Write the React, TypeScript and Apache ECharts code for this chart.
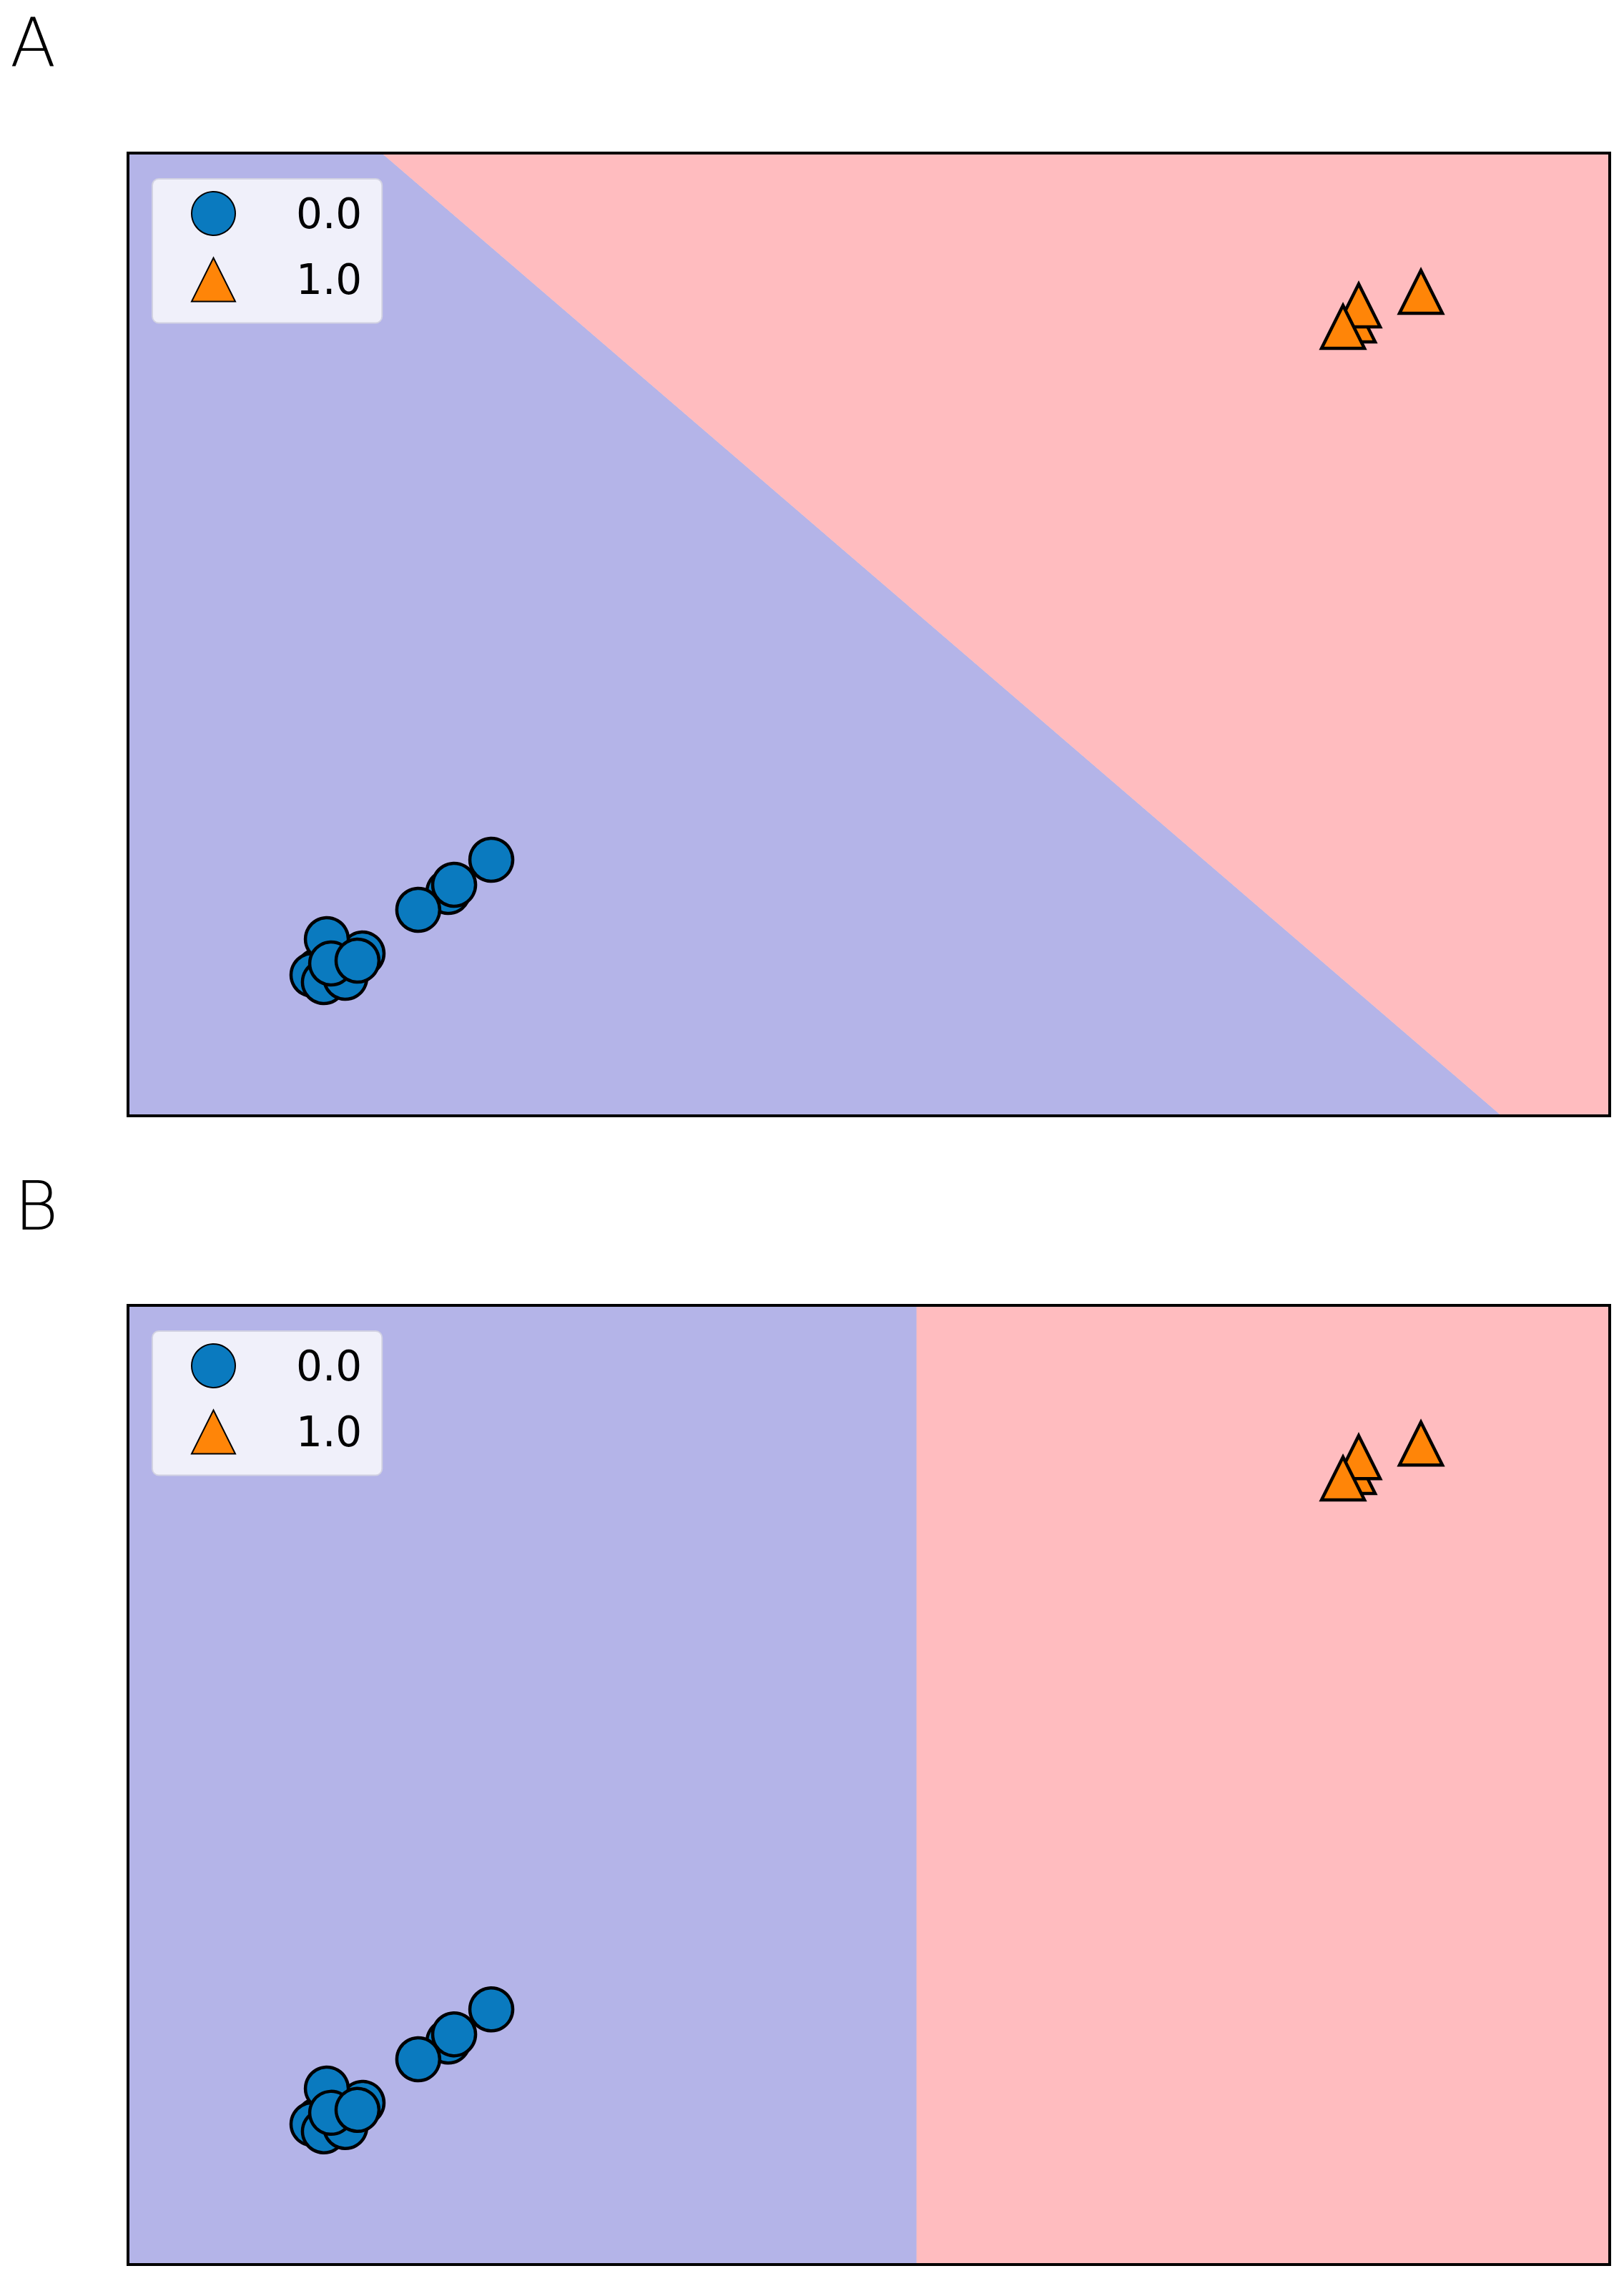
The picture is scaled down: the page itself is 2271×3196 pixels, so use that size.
import React, { useEffect, useRef } from "react";
import * as echarts from "echarts";

// ---- data (arbitrary feature units, axes span 0..100) ----
const classNames = ["0.0", "1.0"];
const class0X = [24.52, 21.62, 22.01, 19.59, 12.84, 12.45, 13.22, 14.67, 15.83, 13.42, 13.71, 15.49];
const class0Y = [26.6, 23.25, 24.0, 21.4, 15.08, 14.64, 13.89, 14.34, 16.86, 18.35, 15.82, 16.12];
const class1X = [82.72, 83.06, 82.0, 87.26];
const class1Y = [82.62, 84.18, 81.95, 85.59];
// decision boundary of panel A: line through (x at top, x at bottom)
const boundaryA = [
  [17.13, 100],
  [92.71, 0],
];
// decision boundary of panel B: vertical line at x
const boundaryB = [53.23];
const axisMin = 0;
const axisMax = 100;
const panelLabels = ["A", "B"];

const BLUE_REGION = "#b4b4e8";
const RED_REGION = "#ffbcbf";
const BLUE = "#0a7abf";
const ORANGE = "#ff8508";

export default function App() {
  const ref = useRef<HTMLDivElement>(null);
  useEffect(() => {
    document.body.style.margin = "0";
    if (!ref.current) return;
    const chart = echarts.init(ref.current, null, { renderer: "svg" });

    const pts0 = class0X.map((x, i) => [x, class0Y[i]]);
    const pts1 = class1X.map((x, i) => [x, class1Y[i]]);

    const polysA = {
      blue: [[axisMin, axisMin], [axisMin, axisMax], boundaryA[0], boundaryA[1]],
      red: [boundaryA[0], [axisMax, axisMax], [axisMax, axisMin], boundaryA[1]],
    };
    const polysB = {
      blue: [[axisMin, axisMin], [axisMin, axisMax], [boundaryB[0], axisMax], [boundaryB[0], axisMin]],
      red: [[boundaryB[0], axisMin], [boundaryB[0], axisMax], [axisMax, axisMax], [axisMax, axisMin]],
    };
    const frame = [
      [axisMin, axisMin],
      [axisMin, axisMax],
      [axisMax, axisMax],
      [axisMax, axisMin],
    ];

    const regionSeries = (idx: number, polys: any) => ({
      type: "custom",
      xAxisIndex: idx,
      yAxisIndex: idx,
      z: 1,
      silent: true,
      clip: false,
      data: [0],
      renderItem: (params: any, api: any) => ({
        type: "group",
        children: [
          {
            type: "polygon",
            shape: { points: polys.blue.map((p: number[]) => api.coord(p)) },
            style: { fill: BLUE_REGION, stroke: BLUE_REGION, lineWidth: 0.5 },
          },
          {
            type: "polygon",
            shape: { points: polys.red.map((p: number[]) => api.coord(p)) },
            style: { fill: RED_REGION, stroke: RED_REGION, lineWidth: 0.5 },
          },
          {
            type: "polygon",
            shape: { points: frame.map((p: number[]) => api.coord(p)) },
            style: { fill: "none", stroke: "#000000", lineWidth: 4 },
          },
        ],
      }),
    });

    const scatter = (idx: number, name: string, data: number[][], symbol: string, color: string, size: any) => ({
      type: "scatter",
      name,
      xAxisIndex: idx,
      yAxisIndex: idx,
      z: 3,
      data,
      symbol,
      symbolSize: size,
      itemStyle: { color, borderColor: "#000000", borderWidth: 4.5, opacity: 1 },
      emphasis: { disabled: true },
    });

    const grids = [
      { left: 179, top: 214, width: 2072, height: 1346 },
      { left: 179, top: 1825, width: 2072, height: 1341 },
    ];

    const legendBase = (top: number) => ({
      orient: "vertical",
      left: 213,
      top,
      padding: [17, 28, 29, 54],
      itemWidth: 61,
      itemHeight: 61,
      itemGap: 29.5,
      backgroundColor: "#f0f0fa",
      borderColor: "#d2d2e2",
      borderWidth: 2,
      borderRadius: 9,
      selectedMode: false,
      data: classNames,
      textStyle: {
        fontFamily: "DejaVu Sans",
        fontSize: 58,
        color: "#000000",
        padding: [0, 0, 0, 80],
      },
    });

    const axisCommon = {
      type: "value",
      min: axisMin,
      max: axisMax,
      axisLine: { show: false },
      axisTick: { show: false },
      axisLabel: { show: false },
      splitLine: { show: false },
    };

    const labelStyle = (text: string) => ({
      text,
      fontFamily: "DejaVu Sans",
      fontWeight: 200,
      fontSize: 94,
      fill: "#000000",
      verticalAlign: "middle",
      align: "left",
    });

    chart.setOption({
      animation: false,
      grid: grids.map((g) => ({ ...g, show: false })),
      xAxis: [0, 1].map((i) => ({ ...axisCommon, gridIndex: i })),
      yAxis: [0, 1].map((i) => ({ ...axisCommon, gridIndex: i })),
      legend: [legendBase(250), legendBase(1861)],
      graphic: [
        { type: "text", x: 14, y: 60, style: labelStyle(panelLabels[0]) },
        { type: "text", x: 20, y: 1686, style: labelStyle(panelLabels[1]) },
      ],
      series: [
        regionSeries(0, polysA),
        regionSeries(1, polysB),
        scatter(0, classNames[0], pts0, "circle", BLUE, 60),
        scatter(0, classNames[1], pts1, "triangle", ORANGE, [60, 60]),
        scatter(1, classNames[0], pts0, "circle", BLUE, 60),
        scatter(1, classNames[1], pts1, "triangle", ORANGE, [60, 60]),
      ],
    });
    return () => chart.dispose();
  }, []);
  return (
    <div
      ref={ref}
      style={{ position: "absolute", left: 0, top: 0, width: 2271, height: 3196, background: "#ffffff" }}
    />
  );
}
